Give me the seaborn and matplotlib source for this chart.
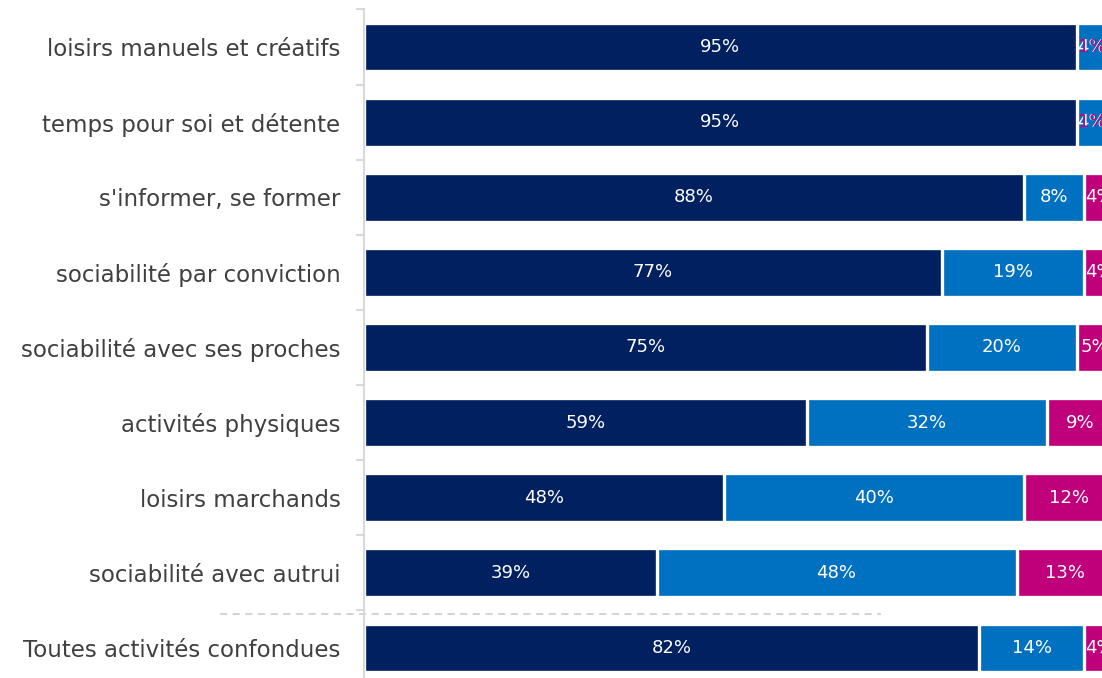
import numpy as np
import matplotlib
matplotlib.use('Agg')
import matplotlib.pyplot as plt
import matplotlib.transforms as mtransforms
import seaborn as sns

# Data
categories = ['loisirs manuels et créatifs', 'temps pour soi et détente',
              "s'informer, se former", 'sociabilité par conviction',
              'sociabilité avec ses proches', 'activités physiques',
              'loisirs marchands', 'sociabilité avec autrui',
              'Toutes activités confondues']
share_a = [95, 95, 88, 77, 75, 59, 48, 39, 82]
share_b = [4, 4, 8, 19, 20, 32, 40, 48, 14]
share_c = [1, 1, 4, 4, 5, 9, 12, 13, 4]

colors = ['#002060', '#0070C0', '#C0007A']

sns.set_theme(style='white')
plt.rcParams['font.family'] = ['DejaVu Sans']

fig = plt.figure(figsize=(11.02, 6.78), dpi=100)
ax = fig.add_axes([364 / 1102, -7.5 / 678, 1 - 364 / 1102, 676 / 678])

a = np.array(share_a)
b = np.array(share_b)
c = np.array(share_c)
layers = [a, a + b, a + b + c]

# cumulative bars, widest first so the seams show as white edges
for vals, col in zip(layers[::-1], colors[::-1]):
    sns.barplot(x=vals, y=categories, orient='h', color=col, width=0.65,
                edgecolor='white', linewidth=2.4, saturation=1, ax=ax)

# segment labels
starts = [np.zeros(len(a)), a, a + b]
for seg, st, col in zip([a, b, c], starts, colors):
    for i, (v, s) in enumerate(zip(seg, st)):
        if v <= 1:
            ax.text(s, i, f'{v}%', ha='right', va='center', color=col,
                    fontsize=13, clip_on=False)
        else:
            ax.text(s + v / 2, i, f'{v}%', ha='center', va='center',
                    color='white', fontsize=13, clip_on=False)

ax.set_xlim(0, 98.4)
ax.set_ylim(len(categories) - 0.5, -0.5)
ax.set_xlabel('')
ax.set_ylabel('')
ax.set_xticks([])

# axis styling
for s in ['top', 'right', 'bottom']:
    ax.spines[s].set_visible(False)
ax.spines['left'].set_color('#d9d9d9')
ax.spines['left'].set_linewidth(1.5)
ax.set_yticks(np.arange(-0.5, len(categories)), minor=True)
ax.tick_params(axis='y', which='major', length=0, pad=17, labelsize=16.5,
               labelcolor='#404040')
ax.tick_params(axis='y', which='minor', length=6, width=1.5, color='#d9d9d9',
               left=True)

# separator before the overall row
trans = mtransforms.blended_transform_factory(ax.transAxes, ax.transData)
ax.plot([-0.195, 0.70], [len(categories) - 1.45] * 2, transform=trans,
        color='#d0d0d0', linestyle=(0, (4, 3)), linewidth=1.3, clip_on=False)

fig.savefig('out.png', dpi=100)
